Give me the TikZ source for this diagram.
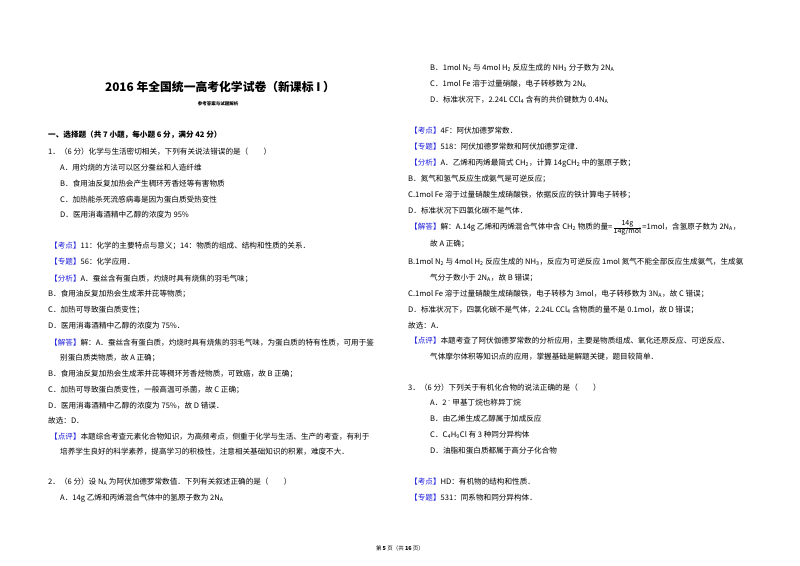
\documentclass[tikz,border=0pt]{standalone}
\usepackage{fontspec}
\setmainfont{Noto Sans CJK SC}
\usepackage{xcolor}
\definecolor{kb}{RGB}{30,30,220}
\newcommand\kd[1]{{\color{kb}【#1】}}
\newcommand\sub[1]{\textsubscript{#1}}
\newcommand\NA{N\sub{A}}
\begin{document}
\begin{tikzpicture}[x=1pt,y=-1pt,tx/.style={anchor=mid west,inner sep=0pt,font=\fontsize{7.6}{9}\selectfont}]
\useasboundingbox[fill=white] (0,0) rectangle (800,565);
\newcommand\T[3]{\node[tx] at (#1,#2) {#3};}
% title
\node[inner sep=0pt,font=\fontsize{11.8}{13}\selectfont\bfseries] (title) at (220,87) {2016 年全国统一高考化学试卷（新课标 I ）};
\node[inner sep=0pt,font=\fontsize{4.5}{5}\selectfont\bfseries] (sub) at (218,104) {参考答案与试题解析};
\node[tx,anchor=mid west,font=\fontsize{7.6}{9}\selectfont\bfseries] (sec) at (48,135) {一、选择题（共 7 小题，每小题 6 分，满分 42 分）};
\T{48}{152}{1．（6 分）化学与生活密切相关，下列有关说法错误的是（\quad\quad）}
\T{60}{168}{A．用灼烧的方法可以区分蚕丝和人造纤维}
\T{60}{184}{B．食用油反复加热会产生稠环芳香烃等有害物质}
\T{60}{200}{C．加热能杀死流感病毒是因为蛋白质受热变性}
\T{60}{215}{D．医用消毒酒精中乙醇的浓度为 95\%}
\T{50}{246}{\kd{考点}11：化学的主要特点与意义；14：物质的组成、结构和性质的关系．}
\T{50}{262}{\kd{专题}56：化学应用．}
\T{50}{279}{\kd{分析}A．蚕丝含有蛋白质，灼烧时具有烧焦的羽毛气味；}
\T{48}{294}{B．食用油反复加热会生成苯并芘等物质；}
\T{48}{310}{C．加热可导致蛋白质变性；}
\T{48}{326}{D．医用消毒酒精中乙醇的浓度为 75\%．}
\T{50}{343}{\kd{解答}解：A．蚕丝含有蛋白质，灼烧时具有烧焦的羽毛气味，为蛋白质的特有性质，可用于鉴}
\T{60}{358}{别蛋白质类物质，故 A 正确；}
\T{48}{374}{B．食用油反复加热会生成苯并芘等稠环芳香烃物质，可致癌，故 B 正确；}
\T{48}{390}{C．加热可导致蛋白质变性，一般高温可杀菌，故 C 正确；}
\T{48}{406}{D．医用消毒酒精中乙醇的浓度为 75\%，故 D 错误．}
\T{48}{421}{故选：D．}
\T{50}{437}{\kd{点评}本题综合考查元素化合物知识，为高频考点，侧重于化学与生活、生产的考查，有利于}
\T{60}{452}{培养学生良好的科学素养，提高学习的积极性，注意相关基础知识的积累，难度不大．}
\T{48}{482}{2．（6 分）设 \NA{} 为阿伏加德罗常数值．下列有关叙述正确的是（\quad\quad）}
\T{60}{498}{A．14g 乙烯和丙烯混合气体中的氢原子数为 2\NA}
% right column
\T{430}{68}{B．1mol N\sub{2} 与 4mol H\sub{2} 反应生成的 NH\sub{3} 分子数为 2\NA}
\T{430}{84}{C．1mol Fe 溶于过量硝酸，电子转移数为 2\NA}
\T{430}{100}{D．标准状况下，2.24L CCl\sub{4} 含有的共价键数为 0.4\NA}
\T{410}{131}{\kd{考点}4F：阿伏加德罗常数．}
\T{410}{147}{\kd{专题}518：阿伏加德罗常数和阿伏加德罗定律．}
\T{410}{163}{\kd{分析}A．乙烯和丙烯最简式 CH\sub{2}，计算 14gCH\sub{2} 中的氢原子数；}
\T{408}{179}{B．氮气和氢气反应生成氨气是可逆反应；}
\T{408}{195}{C.1mol Fe 溶于过量硝酸生成硝酸铁，依据反应的铁计算电子转移；}
\T{408}{211}{D．标准状况下四氯化碳不是气体．}
\T{410}{227}{\kd{解答}解：A.14g 乙烯和丙烯混合气体中含 CH\sub{2} 物质的量=$\frac{\mbox{\fontsize{7}{8}\selectfont 14g}}{\mbox{\fontsize{7}{8}\selectfont 14g/mol}}$=1mol，含氢原子数为 2\NA，}
\T{430}{244}{故 A 正确；}
\T{408}{262}{B.1mol N\sub{2} 与 4mol H\sub{2} 反应生成的 NH\sub{3}，反应为可逆反应 1mol 氮气不能全部反应生成氨气，生成氨}
\T{430}{278}{气分子数小于 2\NA，故 B 错误；}
\T{408}{294}{C.1mol Fe 溶于过量硝酸生成硝酸铁，电子转移为 3mol，电子转移数为 3\NA，故 C 错误；}
\T{408}{310}{D．标准状况下，四氯化碳不是气体，2.24L CCl\sub{4} 含物质的量不是 0.1mol，故 D 错误；}
\T{408}{326}{故选：A．}
\T{410}{341}{\kd{点评}本题考查了阿伏伽德罗常数的分析应用，主要是物质组成、氧化还原反应、可逆反应、}
\T{430}{357}{气体摩尔体积等知识点的应用，掌握基础是解题关键，题目较简单．}
\T{408}{388}{3．（6 分）下列关于有机化合物的说法正确的是（\quad\quad）}
\T{430}{403}{A．2\textsuperscript{﹣}甲基丁烷也称异丁烷}
\T{430}{419}{B．由乙烯生成乙醇属于加成反应}
\T{430}{435}{C．C\sub{4}H\sub{9}Cl 有 3 种同分异构体}
\T{430}{451}{D．油脂和蛋白质都属于高分子化合物}
\T{410}{482}{\kd{考点}HD：有机物的结构和性质．}
\T{410}{498}{\kd{专题}531：同系物和同分异构体．}
\node[inner sep=0pt,font=\fontsize{5.5}{6}\selectfont] (foot) at (400,548) {第 \textbf{5} 页（共 \textbf{16} 页）};
\end{tikzpicture}
\end{document}
